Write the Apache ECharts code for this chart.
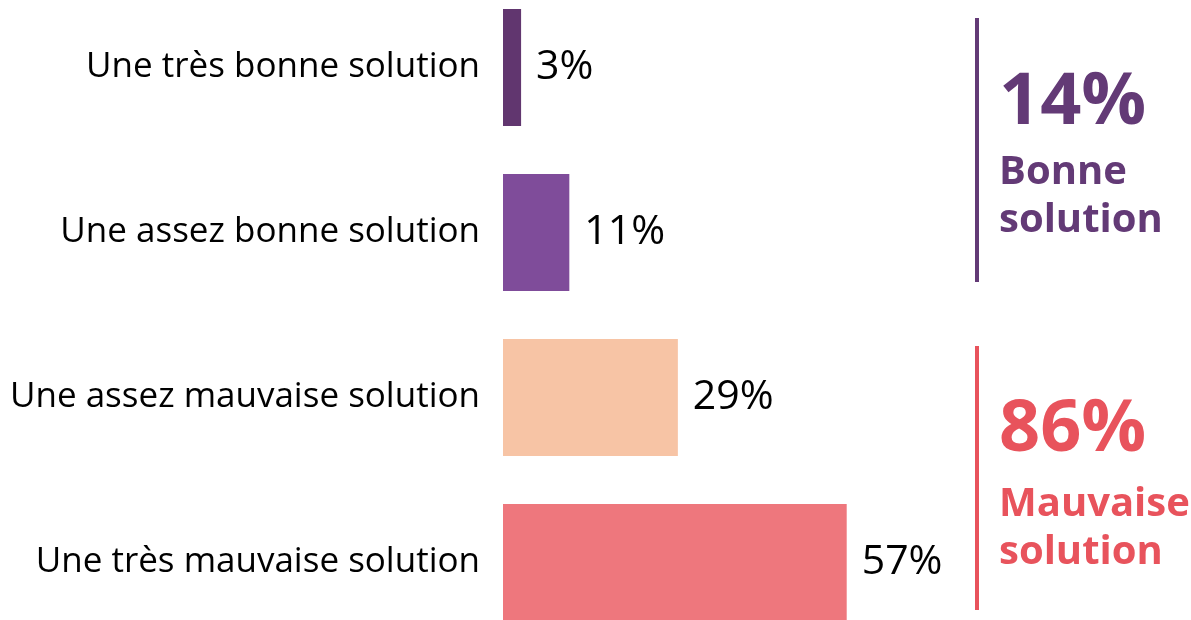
<!DOCTYPE html>
<html>
<head>
<meta charset="utf-8">
<script src="https://cdn.jsdelivr.net/npm/echarts@6/dist/echarts.min.js"></script>
<style>
html,body{margin:0;padding:0;background:#fff;}
#chart{width:1191px;height:620px;}
</style>
</head>
<body>
<div id="chart"></div>
<script>
const categories = ["Une très bonne solution", "Une assez bonne solution", "Une assez mauvaise solution", "Une très mauvaise solution"];
const values = [3, 11, 29, 57];
const barColors = ["#61366F", "#7F4C9A", "#F7C4A5", "#EE777D"];
const groupTotals = ["14%", "86%"];
const groupLabels = ["Bonne\nsolution", "Mauvaise\nsolution"];
const groupColors = ["#633A76", "#E8535C"];

const FONT = "'Open Sans', 'Noto Sans', sans-serif";
const chart = echarts.init(document.getElementById('chart'), null, {renderer: 'canvas'});
chart.setOption({
  animation: false,
  backgroundColor: '#fff',
  grid: {left: 503, top: -15, width: 603, height: 660, containLabel: false, outerBoundsMode: 'none'},
  xAxis: {type: 'value', min: 0, max: 100, show: false},
  yAxis: {
    type: 'category', data: categories, inverse: true,
    axisLine: {show: false}, axisTick: {show: false}, splitLine: {show: false},
    axisLabel: {fontSize: 35, color: '#000', margin: 23, fontFamily: FONT}
  },
  series: [{
    type: 'bar',
    data: values.map((v, i) => ({value: v, itemStyle: {color: barColors[i]}})),
    barWidth: 117,
    label: {show: true, position: 'right', distance: 15, fontSize: 41, color: '#000', fontFamily: FONT,
      formatter: p => Math.round(p.value) + '%'}
  }],
  graphic: [
    {type: 'rect', shape: {x: 975, y: 18, width: 4, height: 264}, style: {fill: groupColors[0]}},
    {type: 'rect', shape: {x: 975, y: 346, width: 4, height: 264}, style: {fill: groupColors[1]}},
    {type: 'text', x: 999, y: 67, style: {text: groupTotals[0], fill: groupColors[0], font: "bold 72px " + FONT, textVerticalAlign: 'top'}},
    {type: 'text', x: 999, y: 149, style: {text: groupLabels[0], fill: groupColors[0], font: "bold 40px " + FONT, lineHeight: 48, textVerticalAlign: 'top'}},
    {type: 'text', x: 999, y: 394, style: {text: groupTotals[1], fill: groupColors[1], font: "bold 72px " + FONT, textVerticalAlign: 'top'}},
    {type: 'text', x: 999, y: 481, style: {text: groupLabels[1], fill: groupColors[1], font: "bold 40px " + FONT, lineHeight: 48, textVerticalAlign: 'top'}}
  ]
});
</script>
</body>
</html>
